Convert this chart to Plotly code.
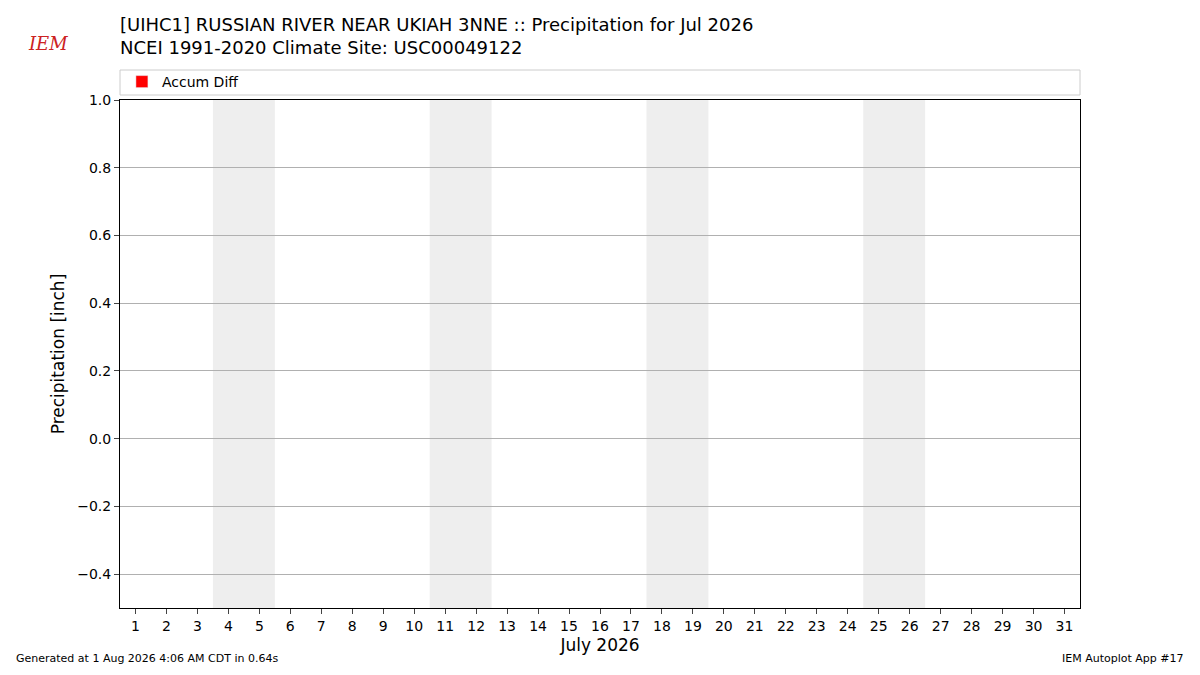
import plotly.graph_objects as go

# data
days = list(range(1, 32))
accum_diff = [None] * 31          # no observations yet
weekend_days = [4, 5, 11, 12, 18, 19, 25, 26]
title_lines = ["[UIHC1] RUSSIAN RIVER NEAR UKIAH 3NNE :: Precipitation for Jul 2026",
               "NCEI 1991-2020 Climate Site: USC00049122"]
y_ticks = [-0.4, -0.2, 0.0, 0.2, 0.4, 0.6, 0.8, 1.0]

# page adds an 8px body margin, so the figure is a bit smaller than the window
W, H = 1184, 659
L, R, T, B = 112, 112, 92, 59
PW, PH = W - L - R, H - T - B
font = "DejaVu Sans"

fig = go.Figure()
fig.add_trace(go.Bar(x=days, y=accum_diff, name="Accum Diff",
                     marker_color="red", showlegend=True))

# shade weekends (pairs of days)
for d in weekend_days[::2]:
    fig.add_vrect(x0=d - 0.5, x1=d + 1.5, fillcolor="#eeeeee",
                  line_width=0, layer="below")

# legend frame spanning the axes width
fig.add_shape(type="rect", xref="paper", yref="paper",
              x0=0, x1=1, y0=1 + 5 / PH, y1=1 + 30 / PH,
              line=dict(color="#cccccc", width=1), fillcolor="white")

fig.add_annotation(text=title_lines[0] + "<br>" + title_lines[1], xref="paper", yref="paper",
                   x=-2 / PW, y=1 + 88 / PH, xanchor="left", yanchor="top", showarrow=False,
                   align="left", font=dict(size=18, color="black", family=font))
fig.add_annotation(text="<i>IEM</i>", xref="paper", yref="paper",
                   x=-94 / PW, y=1 + 56 / PH, xanchor="left", yanchor="middle",
                   showarrow=False, font=dict(size=18, color="#cc2222", family="DejaVu Serif"))
fig.add_annotation(text="Generated at 1 Aug 2026 4:06 AM CDT in 0.64s", xref="paper", yref="paper",
                   x=-106 / PW, y=-50 / PH, xanchor="left", yanchor="middle", showarrow=False,
                   font=dict(size=11, color="black", family=font))
fig.add_annotation(text="IEM Autoplot App #17", xref="paper", yref="paper",
                   x=1 + 106 / PW, y=-50 / PH, xanchor="right", yanchor="middle", showarrow=False,
                   font=dict(size=11, color="black", family=font))

fig.update_layout(
    width=W, height=H, margin=dict(l=L, r=R, t=T, b=B),
    plot_bgcolor="white", paper_bgcolor="white",
    font=dict(family=font, size=14, color="black"),
    legend=dict(x=0.002, y=1 + 18 / PH, xanchor="left", yanchor="middle",
                orientation="h", bgcolor="rgba(0,0,0,0)", font=dict(size=14)),
    xaxis=dict(range=[0.5, 31.5], tickvals=days, ticktext=[str(d) for d in days],
               ticks="outside", ticklen=5, showgrid=False, showline=True, mirror=True,
               linecolor="black", title=dict(text="July 2026", font=dict(size=17), standoff=6)),
    yaxis=dict(range=[-0.5, 1.0], tickvals=y_ticks,
               ticktext=[f"{v:.1f}".replace("-", "\u2212") for v in y_ticks],
               ticks="outside", ticklen=5, showgrid=True, gridcolor="#b0b0b0",
               zeroline=False, showline=True, mirror=True, linecolor="black",
               title=dict(text="Precipitation [inch]", font=dict(size=17), standoff=8)),
)

fig.write_html("out.html")
